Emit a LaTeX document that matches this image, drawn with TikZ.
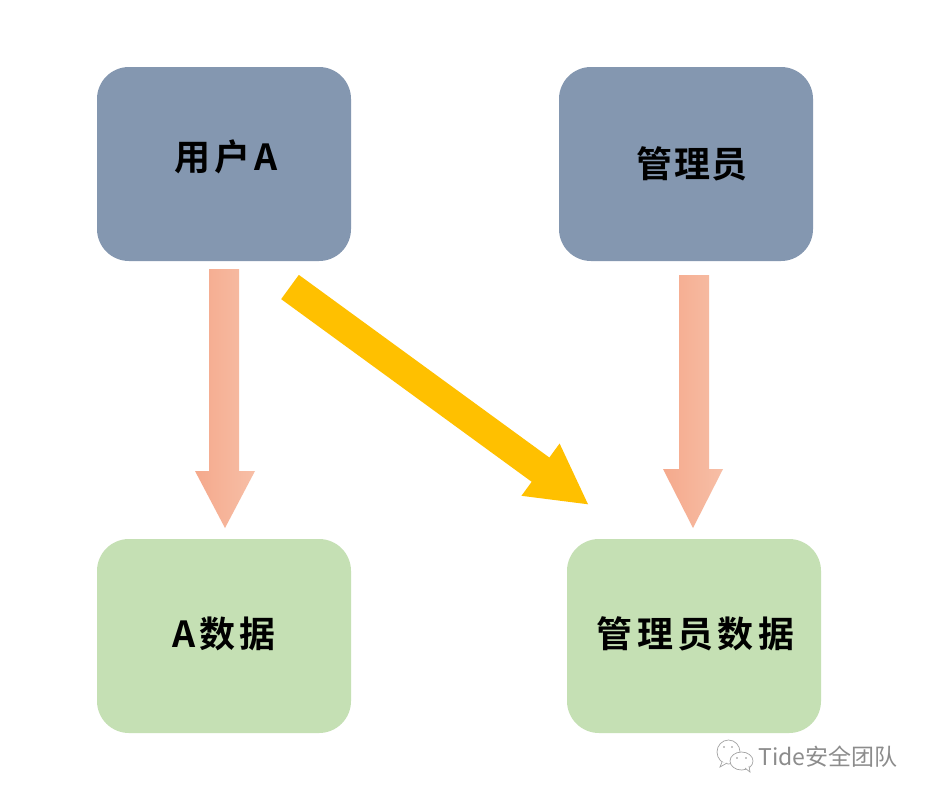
\documentclass[tikz,border=0pt]{standalone}
\usepackage{fontspec}
\usetikzlibrary{calc,arrows.meta}
\newfontfamily\cjkbold[LetterSpace=12]{Noto Sans CJK SC Bold}
\newfontfamily\cjktight[LetterSpace=3]{Noto Sans CJK SC Bold}
\newfontfamily\cjkmark{Noto Sans CJK SC}
\definecolor{boxblue}{HTML}{8497B0}
\definecolor{boxgreen}{HTML}{C5E0B4}
\definecolor{arrowyellow}{HTML}{FFC000}
\definecolor{salmonL}{HTML}{F5A98C}
\definecolor{salmonR}{HTML}{F7BFA7}
\definecolor{markgray}{HTML}{8C8C8C}
\newcommand{\boxtext}[3]{\raisebox{#2}[0pt][0pt]{\makebox[0pt][c]{\hspace*{#1}#3}}}
\newcommand{\blockarrow}[4]{% start, tip, head top y-offset from tip, head-centre x offset
  \path[left color=salmonL,right color=salmonR]
    ($(#1)+(-15,0)$) -- ($(#1)+(15,0)$) -- ($(#2)+(#4+15,-#3)$) -- ($(#2)+(30,-#3)$)
    -- (#2) -- ($(#2)+(-30,-#3)$) -- ($(#2)+(#4-15,-#3)$) -- cycle;}
\tikzset{
  card/.style={rectangle,rounded corners=32pt,minimum width=254pt,minimum height=194pt,inner sep=0pt,outer sep=0pt,text=black,font=\cjkbold\fontsize{36}{40}\selectfont},
  usercard/.style={card,fill=boxblue},
  datacard/.style={card,fill=boxgreen},
  markline/.style={draw=markgray!80,line width=0.7pt,fill=white},
  bigarrow/.style={draw=arrowyellow,line width=30pt,-{Triangle[length=60pt,width=60pt,fill=arrowyellow]}}
}
\begin{document}
\begin{tikzpicture}[x=1pt,y=-1pt]
\useasboundingbox (0,0) rectangle (928,798);
\fill[white] (0,0) rectangle (928,798);
\node[usercard] (userA) at (224,164) {\boxtext{4pt}{-6pt}{用户A}};
\node[usercard] (admin) at (686,164) {\boxtext{12pt}{-13pt}{\cjktight 管理员}};
\node[datacard] (dataA) at (224,636) {\boxtext{0pt}{-11pt}{A数据}};
\node[datacard] (dataAdmin) at (694,636) {\boxtext{3pt}{-11pt}{管理员数据}};
% connectors
\coordinate (s1) at ($(userA.south)+(0,8)$);
\coordinate (t1) at ($(dataA.north)+(1,-11)$);
\coordinate (s2) at ($(admin.south)+(8,14)$);
\coordinate (t2) at ($(dataAdmin.north)+(-1,-11)$);
\coordinate (s3) at ($(userA.south)+(66,26)$);
\coordinate (t3) at ($(dataAdmin.north)+(-105,-34)$);
\blockarrow{s1}{t1}{57}{-1}
\blockarrow{s2}{t2}{59}{1}
\draw[bigarrow] (s3) -- (t3);
% watermark
\draw[markline] (728.5,752) ellipse (11.5 and 12);
\draw[markline] (722,762) -- (720,767) -- (727,763);
\fill[markgray] (724,747) circle (0.9) (732,747) circle (0.9);
\draw[markline] (741.5,761) ellipse (11.5 and 9);
\draw[markline,fill=white] (745,768) -- (750,772) -- (749,766);
\fill[markgray] (737,758) circle (0.9) (746,758) circle (0.9);
\node[inner sep=0pt,text=markgray,font=\cjkmark\fontsize{23}{26}\selectfont] (mark) at (828,757) {Tide安全团队};
\end{tikzpicture}
\end{document}
